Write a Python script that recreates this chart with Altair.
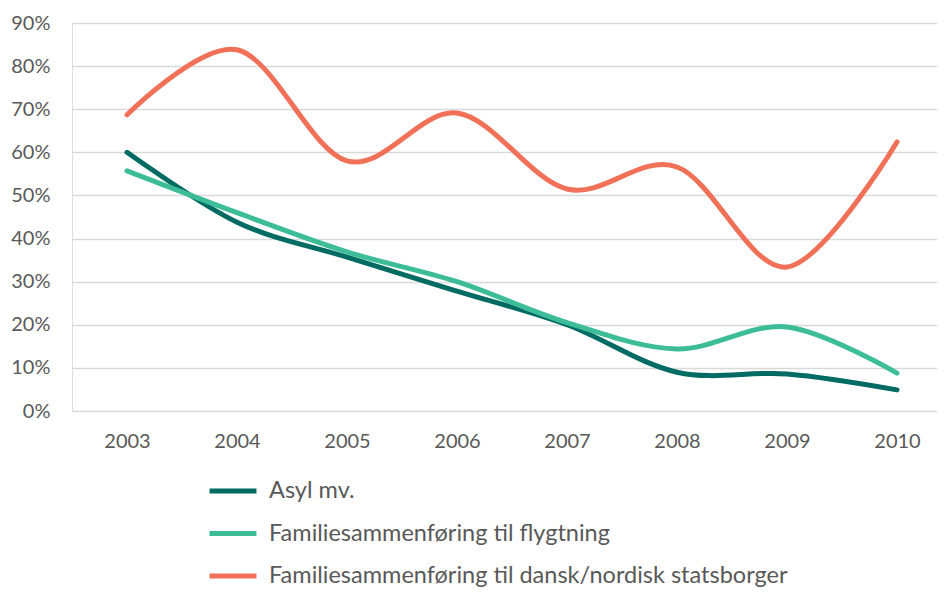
import altair as alt
import pandas as pd

years = ["2003", "2004", "2005", "2006", "2007", "2008", "2009", "2010"]
series_names = [
    "Asyl mv.",
    "Familiesammenføring til flygtning",
    "Familiesammenføring til dansk/nordisk statsborger",
]
asyl = [0.600, 0.438, 0.357, 0.278, 0.200, 0.090, 0.086, 0.049]
flygtning = [0.557, 0.460, 0.369, 0.300, 0.205, 0.144, 0.195, 0.088]
dansk = [0.687, 0.838, 0.580, 0.691, 0.515, 0.566, 0.334, 0.624]
colors = ["#006B63", "#3CBD98", "#F07158"]

rows = []
for name, vals in zip(series_names, [asyl, flygtning, dansk]):
    for y, v in zip(years, vals):
        rows.append({"År": int(y), "Andel": v, "Serie": name})
df = pd.DataFrame(rows)

font = "Lato"
text_color = "#595959"

chart = (
    alt.Chart(df)
    .mark_line(interpolate="cardinal", strokeWidth=5, strokeCap="round", strokeJoin="round")
    .encode(
        x=alt.X(
            "År:Q",
            title=None,
            scale=alt.Scale(domain=[2002.5, 2002.5 + 865 / 110], nice=False, zero=False),
            axis=alt.Axis(
                values=[int(y) for y in years], format="d",
                labelAngle=0, domain=False, ticks=False, grid=False,
                labelPadding=20, labelFontSize=20, labelColor=text_color, labelFont=font,
            ),
        ),
        y=alt.Y(
            "Andel:Q",
            title=None,
            scale=alt.Scale(domain=[0, 0.9], nice=False),
            axis=alt.Axis(
                format=".0%", values=[i / 10 for i in range(10)],
                domain=False, ticks=False, gridColor="#D9D9D9", gridWidth=1.5,
                labelPadding=22, labelFontSize=20, labelColor=text_color, labelFont=font,
            ),
        ),
        color=alt.Color(
            "Serie:N",
            sort=series_names,
            scale=alt.Scale(domain=series_names, range=colors),
            legend=alt.Legend(
                title=None, orient="none", legendX=135, legendY=442, direction="vertical",
                symbolType="stroke", symbolSize=2200, symbolStrokeWidth=5,
                labelFontSize=23.5, labelColor=text_color, labelFont=font,
                rowPadding=4.5, labelOffset=10, labelLimit=700,
            ),
        ),
        order="År:Q",
    )
    .properties(
        width=865,
        height=388,
        autosize=alt.AutoSizeParams(type="none"),
        padding={"left": 64, "top": 15, "right": 0, "bottom": 178},
    )
    .configure_view(stroke=None)
    .configure(background="white")
)

chart.save("out.html", embed_options={"renderer": "svg", "actions": False})
